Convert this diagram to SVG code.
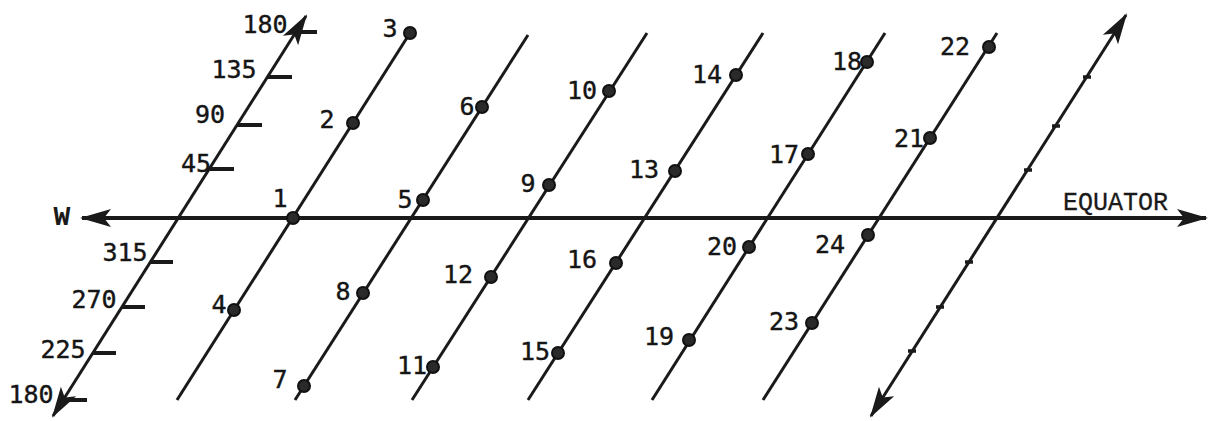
<svg xmlns="http://www.w3.org/2000/svg" width="1210" height="421" viewBox="0 0 1210 421">
<style>
.ln{stroke:#1a1a1a;stroke-width:3;fill:none}
.eq{stroke:#1a1a1a;stroke-width:4;fill:none}
.tk{stroke:#1a1a1a;stroke-width:4}
.tk2{stroke:#1a1a1a;stroke-width:3.5}
.dot{fill:#2a2a2a;stroke:#111;stroke-width:2}
.n{font-family:"DejaVu Sans Mono","Liberation Mono",monospace;font-size:25px;fill:#151515;stroke:#151515;stroke-width:0.4;text-anchor:middle}
.t{font-family:"Liberation Mono","Courier New",monospace;font-size:25px;fill:#1a1a1a;stroke:#1a1a1a;stroke-width:0.3}
</style>
<defs>
<marker id="arr" viewBox="-32 -10 36 20" refX="0" refY="0" markerWidth="36" markerHeight="20" markerUnits="userSpaceOnUse" orient="auto-start-reverse">
<path d="M2,0 L-29,-9 L-22,0 L-29,9 Z" fill="#1a1a1a"/>
</marker>
</defs>
<rect width="1210" height="421" fill="#ffffff"/>
<g id="connectors">
<line id="equator" class="eq" x1="82" y1="218" x2="1206" y2="218" marker-start="url(#arr)" marker-end="url(#arr)"/>
<line id="L0" class="ln" x1="53" y1="416" x2="306" y2="16" marker-start="url(#arr)" marker-end="url(#arr)"/>
<line id="L1" class="ln" x1="177" y1="400" x2="410" y2="33"/>
<line id="L2" class="ln" x1="295" y1="400" x2="528" y2="35"/>
<line id="L3" class="ln" x1="412" y1="400" x2="647" y2="33"/>
<line id="L4" class="ln" x1="528" y1="400" x2="763" y2="33"/>
<line id="L5" class="ln" x1="652" y1="400" x2="885" y2="33"/>
<line id="L6" class="ln" x1="763" y1="400" x2="997" y2="33"/>
<line id="L7" class="ln" x1="871" y1="416" x2="1126" y2="15" marker-start="url(#arr)" marker-end="url(#arr)"/>
</g>
<g id="scale-left">
<line class="tk" x1="295" y1="32" x2="317" y2="32"/>
<line class="tk" x1="267" y1="77" x2="292" y2="77"/>
<line class="tk" x1="237" y1="125" x2="262" y2="125"/>
<line class="tk" x1="209" y1="169" x2="234" y2="169"/>
<line class="tk" x1="150" y1="262" x2="173" y2="262"/>
<line class="tk" x1="122" y1="307" x2="145" y2="307"/>
<line class="tk" x1="93" y1="353" x2="116" y2="353"/>
<line class="tk" x1="63" y1="400" x2="87" y2="400"/>
<text class="n" x="265" y="33">180</text>
<text class="n" x="234" y="78">135</text>
<text class="n" x="210" y="123">90</text>
<text class="n" x="196" y="172">45</text>
<text class="n" x="125" y="261">315</text>
<text class="n" x="94" y="308">270</text>
<text class="n" x="63" y="358">225</text>
<text class="n" x="31" y="403">180</text>
</g>
<g id="scale-right">
<line class="tk2" x1="1083" y1="77" x2="1091" y2="77"/>
<line class="tk2" x1="1052" y1="126" x2="1060" y2="126"/>
<line class="tk2" x1="1024" y1="170" x2="1032" y2="170"/>
<line class="tk2" x1="965" y1="262" x2="973" y2="262"/>
<line class="tk2" x1="936" y1="307" x2="944" y2="307"/>
<line class="tk2" x1="908" y1="351" x2="916" y2="351"/>
</g>
<g id="labels">
<text x="62" y="225" style="font-family:'Liberation Mono','Courier New',monospace;font-size:28px;font-weight:bold;fill:#1a1a1a;text-anchor:middle">W</text>
<text class="t" x="1063" y="210">EQUATOR</text>
</g>
<g id="p1"><circle class="dot" cx="293" cy="218" r="6"/><text class="n" x="280" y="207">1</text></g>
<g id="p2"><circle class="dot" cx="353" cy="123" r="6"/><text class="n" x="327" y="128">2</text></g>
<g id="p3"><circle class="dot" cx="410" cy="33" r="6"/><text class="n" x="390" y="37">3</text></g>
<g id="p4"><circle class="dot" cx="234" cy="310" r="6"/><text class="n" x="219" y="313">4</text></g>
<g id="p5"><circle class="dot" cx="423" cy="200" r="6"/><text class="n" x="405" y="208">5</text></g>
<g id="p6"><circle class="dot" cx="482" cy="107" r="6"/><text class="n" x="467" y="115">6</text></g>
<g id="p7"><circle class="dot" cx="304" cy="386" r="6"/><text class="n" x="280" y="388">7</text></g>
<g id="p8"><circle class="dot" cx="363" cy="293" r="6"/><text class="n" x="343" y="300">8</text></g>
<g id="p9"><circle class="dot" cx="549" cy="185" r="6"/><text class="n" x="528" y="192">9</text></g>
<g id="p10"><circle class="dot" cx="609" cy="91" r="6"/><text class="n" x="582" y="99">10</text></g>
<g id="p11"><circle class="dot" cx="433" cy="367" r="6"/><text class="n" x="412" y="374">11</text></g>
<g id="p12"><circle class="dot" cx="491" cy="277" r="6"/><text class="n" x="458" y="283">12</text></g>
<g id="p13"><circle class="dot" cx="675" cy="171" r="6"/><text class="n" x="644" y="178">13</text></g>
<g id="p14"><circle class="dot" cx="736" cy="75" r="6"/><text class="n" x="707" y="83">14</text></g>
<g id="p15"><circle class="dot" cx="558" cy="353" r="6"/><text class="n" x="535" y="360">15</text></g>
<g id="p16"><circle class="dot" cx="616" cy="263" r="6"/><text class="n" x="582" y="268">16</text></g>
<g id="p17"><circle class="dot" cx="808" cy="154" r="6"/><text class="n" x="784" y="163">17</text></g>
<g id="p18"><circle class="dot" cx="867" cy="62" r="6"/><text class="n" x="847" y="70">18</text></g>
<g id="p19"><circle class="dot" cx="689" cy="340" r="6"/><text class="n" x="659" y="345">19</text></g>
<g id="p20"><circle class="dot" cx="749" cy="247" r="6"/><text class="n" x="722" y="255">20</text></g>
<g id="p21"><circle class="dot" cx="930" cy="138" r="6"/><text class="n" x="909" y="147">21</text></g>
<g id="p22"><circle class="dot" cx="989" cy="47" r="6"/><text class="n" x="955" y="55">22</text></g>
<g id="p23"><circle class="dot" cx="812" cy="323" r="6"/><text class="n" x="784" y="330">23</text></g>
<g id="p24"><circle class="dot" cx="868" cy="235" r="6"/><text class="n" x="830" y="253">24</text></g>
</svg>
